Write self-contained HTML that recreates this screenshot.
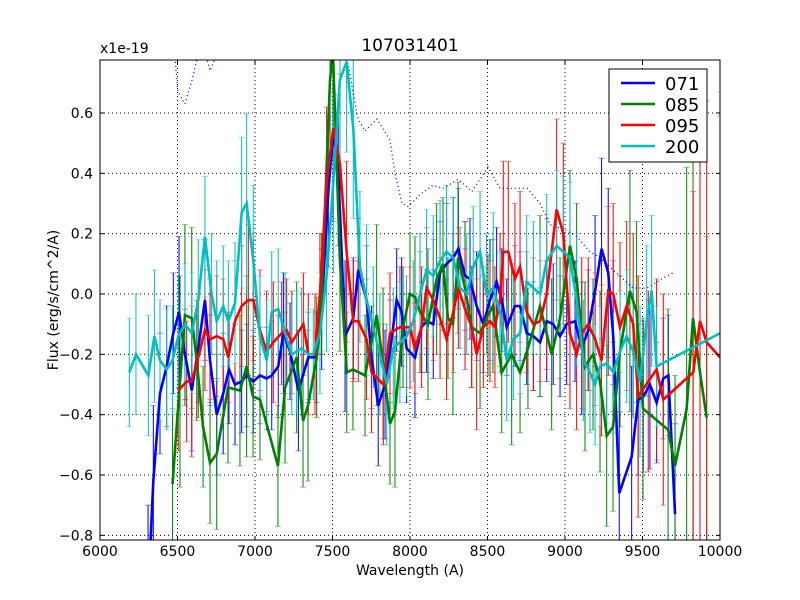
<!DOCTYPE html>
<html><head><meta charset="utf-8"><style>
html,body{margin:0;padding:0;background:#fff;width:800px;height:600px;overflow:hidden}
svg{display:block}
text{font-family:"DejaVu Sans","Liberation Sans",sans-serif}
</style></head><body>
<svg id="chart" width="800" height="600" xmlns="http://www.w3.org/2000/svg">
<rect x="0" y="0" width="800" height="600" fill="#fff"/>
<defs><clipPath id="clip"><rect x="100" y="60" width="620" height="480"/></clipPath></defs>
<g id="grid"></g>
<g id="plot" clip-path="url(#clip)"></g>
<rect x="100" y="60" width="620" height="480" fill="none" stroke="#000" stroke-width="1"/>
<g id="ticks"></g>
<text x="410" y="51" font-size="17" text-anchor="middle">107031401</text>
<text x="100" y="53" font-size="14">x1e-19</text>
<text x="410" y="575" font-size="14" text-anchor="middle">Wavelength (A)</text>
<text x="58" y="300" font-size="14" text-anchor="middle" transform="rotate(-90 58 300)">Flux (erg/s/cm^2/A)</text>
<g id="legend">
<rect x="609" y="69" width="98" height="93" fill="#fff" stroke="#000" stroke-width="1"/>
</g>
</svg>
<script>
const xTicks=[6000,6500,7000,7500,8000,8500,9000,9500,10000];
const yTicks=[0.6,0.4,0.2,0.0,-0.2,-0.4,-0.6,-0.8];
const yTickLabels=["0.6","0.4","0.2","0.0","\u22120.2","\u22120.4","\u22120.6","\u22120.8"];
const seriesNames=["071","085","095","200"];
const seriesColors=["#0000ff","#008000","#ff0000","#00bfbf"];

const wl071=[6310,6344,6387,6430,6473,6510,6548,6592,6634,6677,6710,6753,6795,6832,6871,6914,6946,6989,7032,7075,7108,7150,7183,7226,7280,7344,7397,7430,7473,7505,7537,7581,7634,7666,7720,7752,7795,7839,7871,7914,7946,7978,8032,8075,8107,8150,8194,8236,8279,8312,8355,8387,8430,8473,8516,8559,8592,8624,8677,8710,8753,8796,8839,8882,8924,8968,9011,9065,9108,9150,9194,9236,9279,9311,9350,9430,9472,9505,9548,9591,9634,9667,9710];
const f071=[-1.0,-0.62,-0.33,-0.24,-0.13,-0.06,-0.20,-0.32,-0.18,-0.02,-0.22,-0.40,-0.33,-0.25,-0.30,-0.29,-0.27,-0.29,-0.27,-0.28,-0.27,-0.24,-0.13,-0.19,-0.32,-0.21,-0.21,-0.05,0.34,0.54,0.41,-0.14,-0.08,0.08,-0.02,-0.21,-0.37,-0.30,-0.19,-0.02,-0.06,-0.18,-0.21,-0.11,-0.09,-0.10,0.07,0.10,0.12,0.15,0.06,0.05,-0.04,-0.10,-0.02,0.04,-0.02,-0.11,-0.04,-0.04,-0.13,-0.14,-0.16,-0.09,-0.10,-0.14,-0.10,-0.09,-0.18,-0.12,0.01,0.15,0.07,-0.14,-0.66,-0.54,-0.35,-0.34,-0.30,-0.36,-0.28,-0.27,-0.73];
const e071=[0.3,0.25,0.2,0.2,0.2,0.25,0.15,0.2,0.18,0.2,0.15,0.2,0.2,0.18,0.2,0.17,0.17,0.17,0.16,0.17,0.18,0.17,0.2,0.16,0.2,0.15,0.15,0.2,0.25,0.3,0.25,0.25,0.2,0.17,0.18,0.17,0.2,0.18,0.17,0.17,0.18,0.18,0.2,0.15,0.17,0.18,0.17,0.2,0.2,0.2,0.18,0.2,0.18,0.16,0.2,0.18,0.17,0.16,0.2,0.18,0.17,0.18,0.18,0.2,0.2,0.2,0.2,0.2,0.22,0.2,0.25,0.3,0.28,0.25,0.4,0.3,0.25,0.25,0.28,0.2,0.2,0.2,0.3];

const wl085=[6468,6516,6548,6592,6624,6665,6710,6753,6826,6903,6946,6987,7032,7148,7194,7269,7310,7342,7398,7430,7484,7503,7548,7592,7632,7710,7785,7826,7871,7903,7955,8000,8032,8065,8116,8172,8213,8245,8277,8310,8355,8398,8452,8503,8535,8592,8656,8710,8761,8839,8914,8968,9032,9075,9129,9181,9226,9269,9310,9355,9419,9462,9503,9665,9710,9785,9826,9871,9914];
const f085=[-0.63,-0.29,-0.07,-0.08,-0.22,-0.44,-0.56,-0.53,-0.31,-0.32,-0.24,-0.34,-0.35,-0.57,-0.31,-0.21,-0.42,-0.37,-0.21,0.00,0.71,0.80,0.11,-0.26,-0.25,-0.27,-0.07,-0.23,-0.43,-0.39,-0.11,0.00,-0.01,-0.06,-0.10,0.05,0.10,-0.08,-0.10,0.12,0.02,-0.11,-0.13,-0.07,-0.04,-0.26,-0.20,-0.26,-0.18,-0.04,-0.20,-0.08,0.16,0.05,-0.24,-0.20,-0.29,-0.47,-0.44,-0.19,0.01,-0.06,-0.38,-0.45,-0.57,-0.38,-0.08,-0.26,-0.41];
const e085=[0.25,0.35,0.3,0.3,0.2,0.2,0.2,0.25,0.25,0.25,0.3,0.2,0.2,0.2,0.25,0.25,0.22,0.25,0.2,0.2,0.3,0.3,0.3,0.2,0.2,0.2,0.3,0.25,0.2,0.25,0.2,0.2,0.2,0.2,0.25,0.25,0.22,0.2,0.3,0.25,0.22,0.2,0.25,0.2,0.22,0.2,0.3,0.2,0.2,0.3,0.25,0.2,0.25,0.25,0.28,0.25,0.3,0.3,0.28,0.25,0.4,0.3,0.3,0.4,0.3,0.8,0.8,0.8,0.6];

const wl095=[6505,6559,6592,6634,6677,6710,6753,6795,6828,6871,6914,6957,6989,7032,7075,7118,7172,7204,7237,7312,7344,7387,7419,7462,7505,7548,7591,7634,7666,7720,7752,7828,7871,7935,8000,8032,8075,8107,8150,8194,8236,8279,8312,8355,8398,8430,8473,8516,8548,8581,8602,8634,8677,8710,8753,8796,8839,8882,8946,8989,9032,9075,9108,9150,9194,9236,9279,9311,9355,9398,9440,9472,9537,9591,9634,9827,9871,9914,10000];
const f095=[-0.32,-0.29,-0.29,-0.21,-0.12,-0.15,-0.14,-0.15,-0.21,-0.09,-0.04,-0.02,-0.02,-0.12,-0.19,-0.16,-0.13,-0.12,-0.16,-0.10,-0.20,-0.20,0.00,0.37,0.55,0.43,0.14,-0.09,-0.09,-0.15,-0.26,-0.30,-0.13,-0.11,-0.11,-0.18,-0.11,0.02,-0.02,-0.08,-0.15,-0.06,0.02,-0.05,-0.11,-0.20,-0.11,-0.09,-0.11,-0.02,0.14,0.14,0.05,0.09,-0.06,-0.10,-0.09,0.00,0.28,0.20,-0.13,-0.20,-0.13,-0.10,-0.15,-0.22,0.01,0.00,-0.11,-0.04,-0.10,-0.34,-0.29,-0.25,-0.35,-0.26,-0.09,-0.16,-0.21];
const e095=[0.2,0.2,0.25,0.2,0.2,0.2,0.2,0.2,0.15,0.2,0.2,0.25,0.2,0.2,0.2,0.2,0.17,0.17,0.17,0.17,0.2,0.2,0.2,0.25,0.3,0.3,0.3,0.2,0.2,0.2,0.2,0.2,0.2,0.2,0.2,0.15,0.2,0.2,0.2,0.2,0.2,0.2,0.2,0.2,0.2,0.25,0.2,0.2,0.2,0.22,0.3,0.3,0.25,0.25,0.2,0.22,0.2,0.25,0.3,0.3,0.25,0.25,0.25,0.22,0.22,0.25,0.28,0.3,0.28,0.28,0.3,0.4,0.3,0.3,0.35,0.6,0.8,0.8,0.8];

const wl200=[6189,6232,6312,6351,6387,6430,6468,6505,6548,6592,6634,6677,6720,6753,6795,6828,6871,6914,6946,6989,7032,7075,7108,7150,7194,7237,7269,7301,7344,7376,7419,7462,7505,7548,7591,7634,7677,7720,7763,7806,7850,7892,7935,7978,8021,8065,8107,8150,8194,8236,8279,8323,8366,8408,8452,8494,8537,8581,8624,8667,8710,8753,8796,8839,8882,8946,8989,9032,9075,9118,9161,9194,9226,9269,9312,9355,9398,9440,9484,9527,9559,9591,10000];
const f200=[-0.26,-0.20,-0.27,-0.14,-0.22,-0.25,-0.22,-0.14,-0.10,-0.13,-0.02,0.19,0.00,-0.09,-0.04,-0.09,-0.03,0.27,0.30,0.11,-0.14,-0.22,-0.06,-0.05,-0.13,-0.20,-0.19,-0.18,-0.20,-0.20,-0.13,0.06,0.37,0.71,0.77,0.55,0.09,-0.02,-0.11,-0.20,-0.30,-0.18,-0.16,-0.14,-0.09,0.00,0.08,0.06,0.11,0.14,0.12,0.02,0.00,0.09,0.14,0.00,0.02,-0.06,-0.22,-0.15,-0.13,0.04,0.02,0.00,0.11,0.16,0.14,0.12,-0.02,-0.22,-0.26,-0.30,-0.24,-0.23,-0.26,-0.19,-0.14,-0.19,-0.29,-0.09,0.01,-0.24,-0.13];
const e200=[0.18,0.2,0.2,0.22,0.2,0.2,0.18,0.2,0.2,0.2,0.2,0.2,0.2,0.2,0.2,0.2,0.2,0.25,0.3,0.25,0.2,0.2,0.2,0.2,0.2,0.2,0.2,0.2,0.15,0.15,0.2,0.25,0.3,0.3,0.3,0.3,0.25,0.25,0.2,0.2,0.2,0.2,0.2,0.2,0.2,0.2,0.2,0.2,0.2,0.22,0.2,0.2,0.2,0.2,0.2,0.2,0.25,0.2,0.2,0.2,0.2,0.22,0.22,0.2,0.22,0.25,0.25,0.25,0.22,0.2,0.2,0.2,0.2,0.2,0.2,0.2,0.22,0.22,0.25,0.25,0.25,0.2,0.8];

const wlRef=[6440,6484,6503,6548,6594,6626,6660,6690,6710,6742,6774,7000,7400,7560,7594,7632,7665,7710,7787,7871,7903,7948,7987,8065,8148,8213,8310,8400,8503,8581,8645,8755,8839,8903,9013,9077,9161,9226,9310,9374,9439,9529,9658,9697];
const fRef=[0.95,0.78,0.67,0.63,0.71,0.78,0.85,0.78,0.74,0.78,0.85,1.1,1.2,0.82,0.78,0.67,0.58,0.54,0.58,0.51,0.40,0.30,0.29,0.33,0.36,0.35,0.38,0.34,0.42,0.35,0.35,0.35,0.30,0.23,0.21,0.19,0.14,0.12,0.08,0.05,0.02,0.02,0.06,0.07];

const X=w=>100+(w-6000)*620/4000;
const Y=v=>294-v*301.7;
const C=y=>Math.max(58,Math.min(542,y));
const NS="http://www.w3.org/2000/svg";
function mk(tag,attrs,parent){const e=document.createElementNS(NS,tag);for(const k in attrs)e.setAttribute(k,attrs[k]);parent.appendChild(e);return e;}
const grid=document.getElementById('grid'),plot=document.getElementById('plot'),ticks=document.getElementById('ticks');

xTicks.forEach(t=>{
  const x=X(t);
  if(t>6000&&t<10000){const g=mk('line',{x1:x,x2:x,y1:60,y2:540,stroke:'#000','stroke-dasharray':'1,3','stroke-width':1},grid);
  
  }
  mk('line',{x1:x,x2:x,y1:540,y2:536,stroke:'#000'},ticks);
  mk('line',{x1:x,x2:x,y1:60,y2:64,stroke:'#000'},ticks);
  const lb=mk('text',{x:x,y:556,'font-size':14,'text-anchor':'middle'},ticks);
  lb.textContent=t;
  
  
});
yTicks.forEach((t,i)=>{
  const y=Y(t);
  const g=mk('line',{x1:100,x2:720,y1:y,y2:y,stroke:'#000','stroke-dasharray':'1,3','stroke-width':1},grid);
  
  
  mk('line',{x1:100,x2:104,y1:y,y2:y,stroke:'#000'},ticks);
  mk('line',{x1:716,x2:720,y1:y,y2:y,stroke:'#000'},ticks);
  const lb=mk('text',{x:93,y:y+5,'font-size':14,'text-anchor':'end'},ticks);
  lb.textContent=yTickLabels[i];
  
  
});

const series=[[wl071,f071,e071],[wl085,f085,e085],[wl095,f095,e095],[wl200,f200,e200]];
series.forEach((s,si)=>{
  const g=mk('g',{},plot);
  
  
  s[0].forEach((w,i)=>{
    const e=s[2][i]!==undefined?s[2][i]:0.2;const x=X(w),y1=Y(s[1][i]+e),y2=Y(s[1][i]-e);
    mk('line',{x1:x,x2:x,y1:C(y1),y2:C(y2),stroke:seriesColors[si],'stroke-width':1},g);
    if(y1>=60&&y1<=540)mk('line',{x1:x-3,x2:x+3,y1:y1,y2:y1,stroke:seriesColors[si],'stroke-width':1,opacity:0.45},g);
    if(y2>=60&&y2<=540)mk('line',{x1:x-3,x2:x+3,y1:y2,y2:y2,stroke:seriesColors[si],'stroke-width':1,opacity:0.45},g);
  });
});
function pts(ws,vs){
  // clamp segments that leave the plot by interpolating to the boundary
  const out=[];
  for(let i=0;i<ws.length;i++){
    let x=X(ws[i]),y=Y(vs[i]);
    if(y<58||y>542){
      const yb=y<58?58:542;
      const nb=[];
      if(i>0){const px=X(ws[i-1]),py=Y(vs[i-1]);if(py>=58&&py<=542)nb.push(px+(x-px)*(yb-py)/(y-py));}
      if(i<ws.length-1){const nx=X(ws[i+1]),ny=Y(vs[i+1]);if(ny>=58&&ny<=542)nb.push(nx+(x-nx)*(yb-ny)/(y-ny));}
      if(nb.length===0){out.push(x+','+yb);}
      else if(nb.length===1){out.push(nb[0]+','+yb);}
      else{out.push(nb[0]+','+yb);out.push(nb[1]+','+yb);}
    } else out.push(x+','+y);
  }
  return out.join(' ');
}
const ref=mk('polyline',{points:pts(wlRef,fRef),fill:'none',stroke:'#0000ff','stroke-width':1.3,'stroke-dasharray':'1,3'},plot);


series.forEach((s,si)=>{
  const p=mk('polyline',{points:pts(s[0],s[1]),fill:'none',stroke:seriesColors[si],'stroke-width':2.6,'stroke-linejoin':'miter'},plot);
  
  
});
const leg=document.getElementById('legend');
seriesNames.forEach((n,i)=>{
  const y=83+i*21;
  const l=mk('line',{x1:621,x2:655,y1:y,y2:y,stroke:seriesColors[i],'stroke-width':2.6},leg);
  
  
  const t=mk('text',{x:665,y:y+7,'font-size':18},leg);
  t.textContent=n;
  
  
});
</script>
</body></html>
